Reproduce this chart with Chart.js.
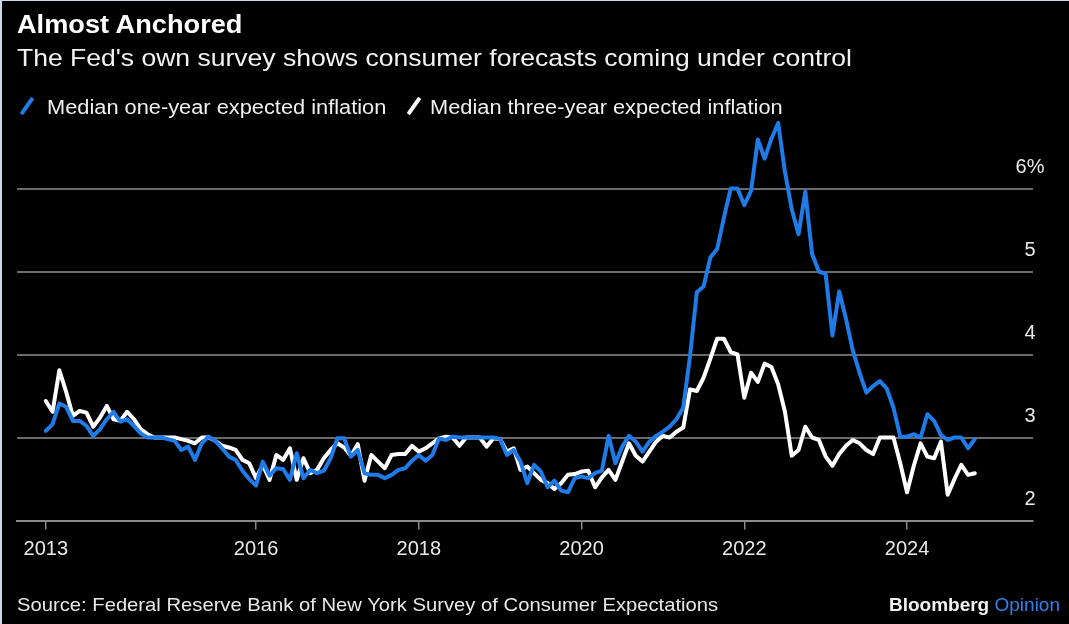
<!DOCTYPE html>
<html>
<head>
<meta charset="utf-8">
<script src="https://cdn.jsdelivr.net/npm/chart.js@4.4.1/dist/chart.umd.min.js"></script>
<style>
  html, body { margin: 0; padding: 0; background: #000; }
  body { width: 1069px; height: 624px; position: relative; overflow: hidden; font-family: "Liberation Sans", Arial, sans-serif; color: #fff; }
  #frame { position: absolute; left: 0; top: 0; width: 1067px; height: 623px; border-left: 2px solid #c9d7e6; border-top: 1px solid #c9d7e6; pointer-events: none; }
  canvas { position: absolute; left: 0; top: 0; }
  .t { position: absolute; white-space: nowrap; line-height: 1; transform-origin: 0 50%; }
  #title { left: 17px; top: 11px; font-size: 26px; font-weight: bold; transform: scaleX(1.045); }
  #subtitle { left: 17px; top: 46px; font-size: 24px; color: #f2f2f2; transform: scaleX(1.105); }
  .leg { position: absolute; top: 97px; font-size: 20px; color: #f0f0f0; transform: scaleX(1.09); }
  .slash { position: absolute; width: 4px; height: 20px; border-radius: 1px; transform: rotate(35deg); }
  #source { left: 17px; top: 595px; font-size: 19px; color: #e8e8e8; transform: scaleX(1.064); }
  #brand { right: 9px; top: 595px; font-size: 19px; transform-origin: 100% 50%; }
  #brand b { color: #f2f2f2; }
  #brand span { color: #2f80ea; }
</style>
</head>
<body>
<canvas id="c" width="1069" height="624"></canvas>
<div class="t" id="title">Almost Anchored</div>
<div class="t" id="subtitle">The Fed's own survey shows consumer forecasts coming under control</div>
<div class="slash" style="left:25px; top:96px; background:#1f7be8;"></div>
<div class="t leg" style="left:47px;">Median one-year expected inflation</div>
<div class="slash" style="left:412px; top:96px; background:#ffffff;"></div>
<div class="t leg" style="left:430px;">Median three-year expected inflation</div>
<div class="t" id="source">Source: Federal Reserve Bank of New York Survey of Consumer Expectations</div>
<div class="t" id="brand"><b>Bloomberg</b> <span>Opinion</span></div>
<div id="frame"></div>
<script>
// Monthly survey, June 2013 - November 2024
const firstYear = 2013;
const firstMonth = 6; // June
const seriesNames = ['Median one-year expected inflation', 'Median three-year expected inflation'];

const oneYear = [
  3.08, 3.16, 3.41, 3.37, 3.20, 3.20, 3.14,
  3.02, 3.10, 3.22, 3.31, 3.19, 3.22, 3.14, 3.05, 3.00, 3.00, 3.00, 2.98,
  2.96, 2.85, 2.89, 2.73, 2.93, 3.01, 2.96, 2.87, 2.77, 2.73, 2.60, 2.50,
  2.42, 2.71, 2.54, 2.63, 2.62, 2.49, 2.81, 2.51, 2.61, 2.57, 2.60, 2.75,
  2.99, 2.99, 2.77, 2.85, 2.57, 2.55, 2.55, 2.51, 2.55, 2.61, 2.63, 2.72,
  2.79, 2.72, 2.79, 2.99, 2.97, 3.01, 3.00, 3.00, 3.00, 3.00, 3.00, 3.00,
  2.98, 2.79, 2.85, 2.71, 2.45, 2.67, 2.59, 2.40, 2.48, 2.36, 2.34, 2.51,
  2.53, 2.51, 2.57, 2.60, 3.02, 2.69, 2.89, 3.02, 2.95, 2.83, 2.95, 3.02,
  3.07, 3.13, 3.22, 3.36, 3.98, 4.75, 4.82, 5.17, 5.27, 5.65, 6.00, 6.00,
  5.80, 5.97, 6.59, 6.36, 6.60, 6.79, 6.20, 5.75, 5.45, 5.96, 5.21, 5.00,
  4.97, 4.23, 4.76, 4.43, 4.05, 3.78, 3.54, 3.62, 3.68, 3.59, 3.36, 3.01,
  3.01, 3.04, 3.00, 3.28, 3.20, 3.03, 2.97, 3.00, 3.00, 2.87, 2.98
];

const threeYear = [
  3.44, 3.31, 3.81, 3.55, 3.26, 3.32, 3.30,
  3.13, 3.24, 3.38, 3.22, 3.20, 3.31, 3.22, 3.10, 3.04, 3.00, 3.00, 3.00,
  3.00, 2.98, 2.96, 2.93, 3.00, 3.00, 2.96, 2.90, 2.88, 2.85, 2.73, 2.69,
  2.51, 2.67, 2.49, 2.79, 2.73, 2.87, 2.49, 2.75, 2.57, 2.61, 2.75, 2.85,
  2.93, 2.88, 2.78, 2.92, 2.48, 2.79, 2.71, 2.63, 2.79, 2.80, 2.80, 2.90,
  2.83, 2.87, 2.93, 2.99, 3.01, 3.00, 2.90, 3.00, 3.00, 3.00, 2.89, 2.99,
  2.98, 2.83, 2.87, 2.61, 2.65, 2.57, 2.49, 2.45, 2.38, 2.45, 2.55, 2.56,
  2.59, 2.60, 2.40, 2.52, 2.61, 2.49, 2.71, 2.93, 2.78, 2.71, 2.83, 2.95,
  3.02, 3.00, 3.07, 3.12, 3.58, 3.56, 3.72, 3.95, 4.19, 4.19, 4.03, 4.00,
  3.48, 3.78, 3.67, 3.89, 3.85, 3.64, 3.31, 2.78, 2.85, 3.13, 3.00, 2.97,
  2.77, 2.66, 2.80, 2.90, 2.97, 2.93, 2.85, 2.80, 3.00, 3.00, 3.00, 2.69,
  2.34, 2.66, 2.93, 2.77, 2.75, 2.95, 2.31, 2.50, 2.67, 2.55, 2.57
];

const xTickLabels = ['2013', '2016', '2018', '2020', '2022', '2024'];
const xTickValues = [2013 + 5 / 12, 2016, 2018, 2020, 2022, 2024];
const yTickValues = [2, 3, 4, 5, 6];
const yTickLabels = ['2', '3', '4', '5', '6%'];

const monthX = oneYear.map((_, i) => firstYear + (firstMonth - 1 + i) / 12);
const toPoints = arr => arr.map((v, i) => ({ x: monthX[i], y: v }));

const gridColor = '#6a6a6a';
const textColor = '#e9e9e9';
const fontFamily = '"Liberation Sans", Arial, sans-serif';

new Chart(document.getElementById('c'), {
  type: 'line',
  data: {
    datasets: [
      { label: seriesNames[0], data: toPoints(oneYear), borderColor: '#1f7be8', borderWidth: 4, pointRadius: 0, tension: 0, borderJoinStyle: 'round', borderCapStyle: 'round' },
      { label: seriesNames[1], data: toPoints(threeYear), borderColor: '#ffffff', borderWidth: 4, pointRadius: 0, tension: 0, borderJoinStyle: 'round', borderCapStyle: 'round' }
    ]
  },
  options: {
    responsive: false,
    animation: false,
    events: [],
    layout: { padding: { left: 17, right: 36, top: 105.5, bottom: 54.5 } },
    plugins: { legend: { display: false }, tooltip: { enabled: false }, title: { display: false } },
    scales: {
      x: {
        type: 'linear',
        min: 2013.063,
        max: 2025.548,
        afterBuildTicks: axis => { axis.ticks = xTickValues.map(v => ({ value: v })); },
        ticks: {
          autoSkip: false, maxRotation: 0, padding: 8, color: textColor,
          font: { family: fontFamily, size: 20 },
          callback: (v, i) => xTickLabels[i]
        },
        grid: { display: true, drawOnChartArea: false, drawTicks: true, tickLength: 9, color: '#8a8a8a', lineWidth: 1.5 },
        border: { display: true, color: '#8a8a8a', width: 2 }
      },
      y: {
        position: 'right',
        min: 2,
        max: 7,
        afterBuildTicks: axis => { axis.ticks = yTickValues.map(v => ({ value: v })); },
        afterFit: axis => { axis.width = 0; },
        ticks: {
          mirror: true, crossAlign: 'center', padding: 11.5, labelOffset: -21, color: textColor,
          font: { family: fontFamily, size: 20 },
          callback: (v) => yTickLabels[yTickValues.indexOf(v)]
        },
        grid: { display: true, drawTicks: false, color: gridColor, lineWidth: 2 },
        border: { display: false }
      }
    }
  }
});
</script>
</body>
</html>
